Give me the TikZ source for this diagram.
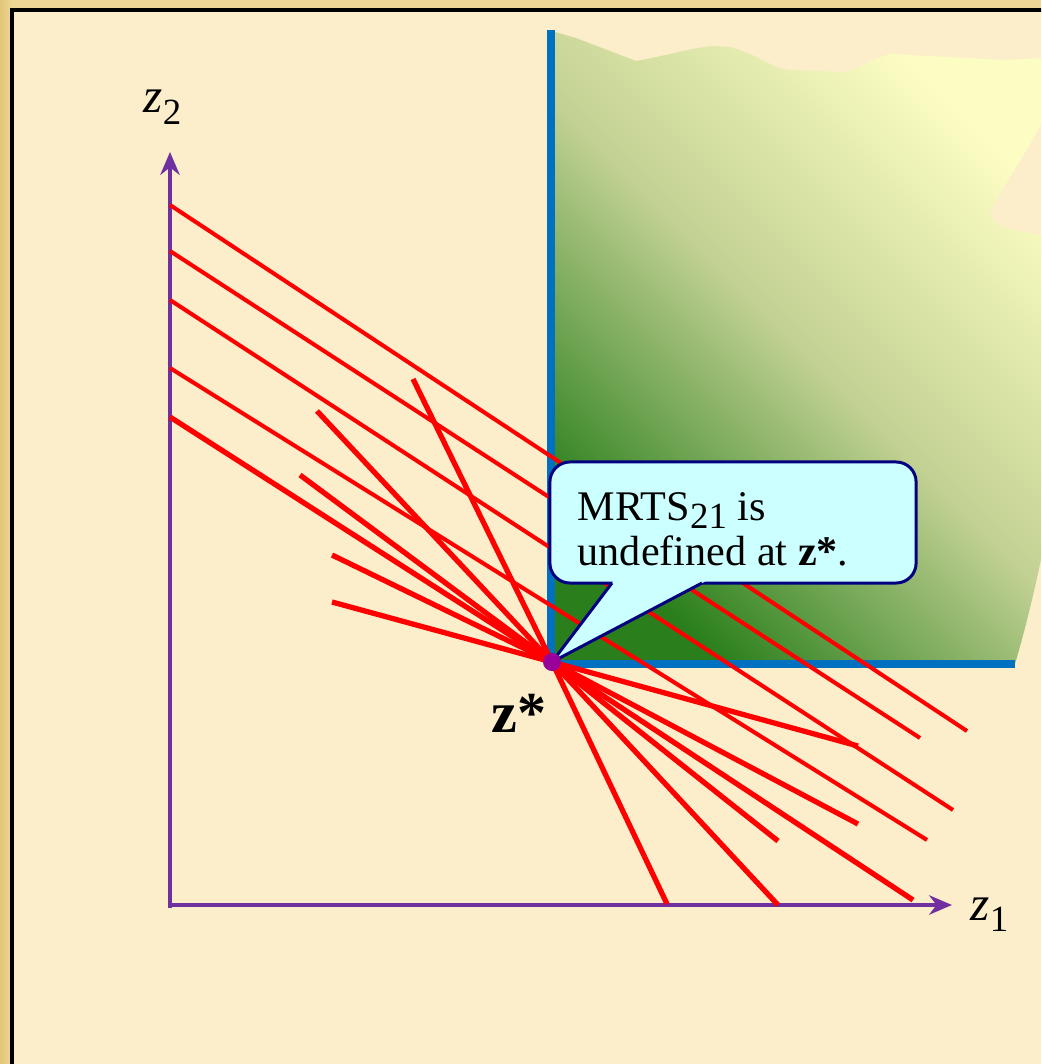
\documentclass[tikz,border=0pt]{standalone}
\usepackage{fontspec}
\setmainfont{Liberation Serif}
\usetikzlibrary{arrows.meta}
\definecolor{cream}{HTML}{FCEECB}
\definecolor{tanedge}{HTML}{EED697}
\definecolor{tandark}{HTML}{E2C678}
\definecolor{axispurple}{HTML}{7030A0}
\definecolor{edgeblue}{HTML}{0070C0}
\definecolor{darkgreen}{HTML}{2A7F1C}
\definecolor{midgreen}{HTML}{C2D193}
\definecolor{paleyellow}{HTML}{FCFDC2}
\definecolor{calloutfill}{HTML}{CCFFFF}
\definecolor{calloutedge}{HTML}{000080}
\definecolor{dotpurple}{HTML}{990099}
\newcommand\lowsub[3]{\raisebox{-#1}{\fontsize{#2}{#2}\selectfont #3}}
\begin{document}
\begin{tikzpicture}[x=0.01cm,y=-0.01cm,
  axisline/.style={draw=axispurple, line width=1.4pt, -{Stealth[length=6.5pt,width=5.5pt]}},
  boundary/.style={draw=edgeblue, line width=2pt},
  budget/.style={draw=red, line width=1.15pt},
  tangent/.style={draw=red, line width=1.5pt},
  calloutbox/.style={draw=calloutedge, fill=calloutfill, line width=0.85pt},
  axislabel/.style={inner sep=0pt, anchor=base west, font=\fontsize{14}{16}\selectfont},
  callouttext/.style={inner sep=0pt, anchor=base west, font=\fontsize{12}{13}\selectfont}]
\useasboundingbox (0,0) rectangle (1041,1064);
\clip (0,0) rectangle (1041,1064);
% outer frame
\fill[tanedge] (0,0) rectangle (1041,1064);
\shade[left color=tandark, right color=tanedge] (0,0) rectangle (12,1064);
\filldraw[fill=cream, draw=black, line width=1.1pt] (12,10) rectangle (1090,1110);
% shaded region
\shade[bottom color=darkgreen, top color=paleyellow, middle color=midgreen, shading angle=-45]
  (555,664) -- (555,32) -- (576,38) -- (636,61)
  .. controls (670,55) and (690,48) .. (712,46) -- (730,47)
  .. controls (760,55) and (770,68) .. (790,70) -- (845,72)
  .. controls (860,68) and (870,60) .. (890,54) -- (1005,60) -- (1045,58)
  -- (1045,115) .. controls (1030,150) and (1005,180) .. (990,213)
  .. controls (992,228) and (1020,232) .. (1045,235)
  -- (1045,540) .. controls (1035,590) and (1025,630) .. (1015,664) -- cycle;
% boundary of the shaded region
\coordinate (bt) at (551,30);
\coordinate (bc) at (551,664);
\coordinate (br) at (1015,664);
\draw[boundary] (bt) -- ([yshift=-0.035cm]bc);
\draw[boundary] ([xshift=-0.035cm]bc) -- (br);
% axes
\coordinate (o) at (170,905);
\coordinate (ytip) at (170,152);
\coordinate (xtip) at (952,905);
\draw[axisline] ([yshift=-0.025cm]o) -- (ytip);
\draw[axisline] ([xshift=-0.025cm]o) -- (xtip);
\node[axislabel] (zt) at (143,113) {\textit{z}\lowsub{3.4pt}{10.5}{2}};
\node[axislabel] (zr) at (970,920) {\textit{z}\lowsub{3.4pt}{10.5}{1}};
% parallel lines
\coordinate (p1s) at (170,205); \coordinate (p1e) at (967,731);
\coordinate (p2s) at (170,251); \coordinate (p2e) at (920,738);
\coordinate (p3s) at (170,300); \coordinate (p3e) at (953,810);
\coordinate (p4s) at (170,368); \coordinate (p4e) at (927,840);
\draw[budget] (p1s) -- (p1e);
\draw[budget] (p2s) -- (p2e);
\draw[budget] (p3s) -- (p3e);
\draw[budget] (p4s) -- (p4e);
% lines through z*
\coordinate (z) at (552,662);
\coordinate (as) at (332,602); \coordinate (ae) at (858,746);
\coordinate (bs) at (332,555); \coordinate (be) at (858,824);
\coordinate (cs) at (300,475); \coordinate (ce) at (778,841);
\coordinate (ds) at (317,411); \coordinate (de) at (778,905);
\coordinate (es) at (413,379); \coordinate (ee) at (667,904);
\coordinate (fs) at (170,417); \coordinate (fe) at (913,900);
\draw[tangent] (as) -- (z) -- (ae);
\draw[tangent] (bs) -- (z) -- (be);
\draw[tangent] (cs) -- (z) -- (ce);
\draw[tangent] (ds) -- (z) -- (de);
\draw[tangent] (es) -- (z) -- (ee);
\draw[tangent] (fs) -- (z) -- (fe);
% callout
\node[calloutbox, rounded corners=0.2cm, minimum width=3.66cm, minimum height=1.21cm,
      inner sep=0pt] (co) at (733,522.5) {};
\coordinate (cl) at (614.3,580);
\coordinate (cr) at (707.8,580);
\fill[calloutfill] (cl) -- (z) -- (cr) -- cycle;
\draw[draw=calloutedge, line width=0.85pt] (612,583) -- (z) -- (702,583);
\node[callouttext] (t1) at (577,520) {MRTS\lowsub{2.3pt}{10.5}{21} is};
\node[callouttext] (t2) at (577,565) {undefined at \textbf{z*}.};
% point
\fill[dotpurple] (z) circle (0.09cm);
\node[inner sep=0pt, anchor=base west, font=\fontsize{16.5}{18}\selectfont\bfseries] (zl) at (491,732) {z*};
\end{tikzpicture}
\end{document}
